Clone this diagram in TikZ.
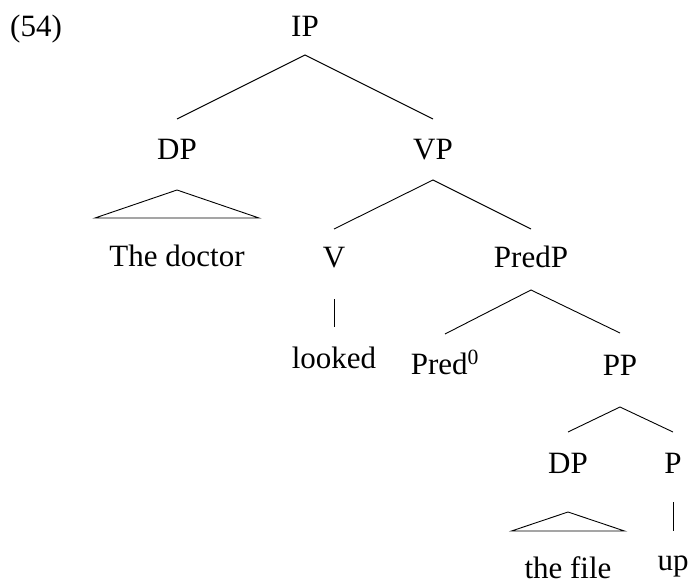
\documentclass[tikz,border=0pt]{standalone}
\usepackage{fontspec}
\setmainfont{Liberation Serif}
\begin{document}
\begin{tikzpicture}[x=1pt,y=-1pt,
  lbl/.style={anchor=base,inner sep=0pt,font=\fontsize{31}{36}\selectfont},
  branch/.style={line width=0.9pt,black}]
\useasboundingbox (0,0) rectangle (689,583);

% example number
\node[lbl,anchor=base west] (ex) at (10,37) {(54)};

% labels of the tree
\node[lbl] (ip)     at (305,37)  {IP};
\node[lbl] (dpA)    at (177,160) {DP};
\node[lbl] (vp)     at (433,160) {VP};
\node[lbl] (doctor) at (177,267) {The doctor};
\node[lbl] (v)      at (334,268) {V};
\node[lbl] (predp)  at (531,268) {PredP};
\node[lbl] (looked) at (334,368) {looked};
\node[lbl] (pred)   at (445,374) {Pred\textsuperscript{0}};
\node[lbl] (pp)     at (620,375) {PP};
\node[lbl] (dpB)    at (568,473) {DP};
\node[lbl] (p)      at (673,473) {P};
\node[lbl] (file)   at (568,578) {the file};
\node[lbl] (up)     at (673,570) {up};

% branches
\draw[branch] ([yshift=41pt]dpA.base) -- ([yshift=-18pt]ip.base) -- ([yshift=41pt]vp.base);
\draw[branch] ([yshift=39pt]v.base) -- ([yshift=-20pt]vp.base) -- ([yshift=39pt]predp.base);
\draw[branch] ([yshift=40pt]pred.base) -- ([yshift=-22pt]predp.base) -- ([yshift=42pt]pp.base);
\draw[branch] ([yshift=41pt]dpB.base) -- ([yshift=-32pt]pp.base) -- ([yshift=41pt]p.base);
\draw[branch] ([yshift=-31pt]v.base) -- ([yshift=41pt]looked.base);
\draw[branch] ([yshift=-29pt]p.base) -- ([yshift=39pt]up.base);

% triangles over unanalysed phrases
\draw[branch] ([yshift=-30pt]dpA.base) -- ([xshift=-82pt,yshift=-58pt]dpA.base)
  -- ([xshift=82pt,yshift=-58pt]dpA.base) -- cycle;
\draw[branch] ([yshift=-39pt]dpB.base) -- ([xshift=-56.5pt,yshift=-58pt]dpB.base)
  -- ([xshift=56.5pt,yshift=-58pt]dpB.base) -- cycle;
\end{tikzpicture}
\end{document}
